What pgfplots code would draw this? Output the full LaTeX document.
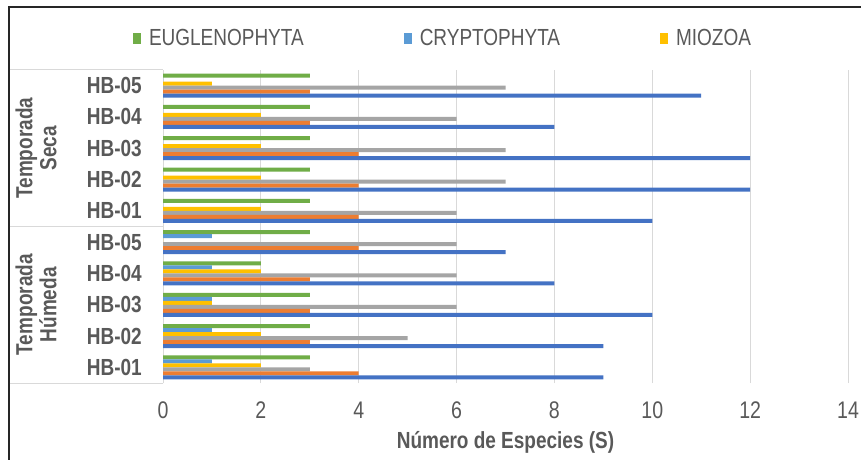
\documentclass[border=0pt]{standalone}
\usepackage{fontspec}
\setmainfont{Liberation Sans}[FakeStretch=0.815]
\usepackage{pgfplots}
\pgfplotsset{compat=1.18}
\usepackage{pgfplotstable}
\definecolor{cBlue}{HTML}{4472C4}
\definecolor{cOrange}{HTML}{ED7D31}
\definecolor{cGray}{HTML}{A5A5A5}
\definecolor{cYellow}{HTML}{FFC000}
\definecolor{cLBlue}{HTML}{5B9BD5}
\definecolor{cGreen}{HTML}{70AD47}
\definecolor{cGrid}{HTML}{D9D9D9}
\definecolor{cText}{HTML}{595959}
\pgfplotsset{legsq/.style={legend image code/.code={\fill[##1] (0pt,-5.5pt) rectangle (8pt,5.5pt);}}}
% y: 0-4 Temporada Humeda HB-01..HB-05, 5-9 Temporada Seca HB-01..HB-05
\pgfplotstableread{
y blue orange gray yellow lblue green
0 9  4 3 2 1 3
1 9  3 5 2 1 3
2 10 3 6 1 1 3
3 8  3 6 2 1 2
4 7  4 6 0 1 3
5 10 4 6 2 0 3
6 12 4 7 2 0 3
7 12 4 7 2 0 3
8 8  3 6 2 0 3
9 11 3 7 1 0 3
}\datatable

\begin{document}
\begin{tikzpicture}[x=1pt,y=1pt]
\useasboundingbox (0,0) rectangle (861,459);
\clip (0,0) rectangle (861,459);
\fill[white] (0,0) rectangle (861,459);
\draw[line width=1.5pt, black!85] (9,-20) rectangle (880,452);
\begin{axis}[
  at={(163pt,76pt)}, anchor=south west,
  scale only axis, width=685pt, height=313pt,
  xbar, bar width=4pt,
  xmin=0, xmax=14, ymin=-0.5, ymax=9.5,
  xtick={0,2,...,14},
  ytick={0,...,9},
  yticklabels={HB-01,HB-02,HB-03,HB-04,HB-05,HB-01,HB-02,HB-03,HB-04,HB-05},
  axis lines*=left,
  x axis line style={draw=none},
  y axis line style={draw=cGrid, line width=1pt},
  major tick length=0pt,
  xmajorgrids, grid style={cGrid, line width=1pt},
  /pgf/number format/assume math mode=true,
  xticklabel style={anchor=base, yshift=-35pt, font=\fontsize{24}{28}\selectfont, text=cText},
  yticklabel style={anchor=east, inner sep=0pt, xshift=-21pt, font=\bfseries\fontsize{23.3}{28}\selectfont, text=cText},
  xlabel={Número de Especies (S)},
  xlabel style={at={(axis description cs:0.5,0)}, anchor=base, yshift=-65pt, font=\bfseries\fontsize{23.3}{28}\selectfont, text=cText},
  legend columns=3,
  legend cell align=left,
  legend style={draw=none, fill=none, inner sep=0pt, outer sep=0pt,
    at={(axis description cs:-0.0438,1.1006)}, anchor=west,
    nodes={inner sep=0pt, text=cText, font=\fontsize{23.3}{28}\selectfont},
    /tikz/every odd column/.append style={column sep=8pt},
    /tikz/every even column/.append style={column sep=100pt}},
  clip=false,
]
\addplot[fill=cGreen, draw=none, bar shift=10pt, legsq] table[x=green,y=y]{\datatable};
\addlegendentry{EUGLENOPHYTA}
\addplot[fill=cLBlue, draw=none, bar shift=6pt, legsq] table[x=lblue,y=y]{\datatable};
\addlegendentry{CRYPTOPHYTA}
\addplot[fill=cYellow, draw=none, bar shift=2pt, legsq] table[x=yellow,y=y]{\datatable};
\addlegendentry{MIOZOA}
\addplot[fill=cGray, draw=none, bar shift=-2pt, forget plot] table[x=gray,y=y]{\datatable};
\addplot[fill=cOrange, draw=none, bar shift=-6pt, forget plot] table[x=orange,y=y]{\datatable};
\addplot[fill=cBlue, draw=none, bar shift=-10pt, forget plot] table[x=blue,y=y]{\datatable};
\draw[cGrid, line width=1pt] ([xshift=-153pt]axis cs:0,9.5) -- (axis cs:0,9.5);
\draw[cGrid, line width=1pt] ([xshift=-153pt]axis cs:0,4.5) -- (axis cs:0,4.5);
\draw[cGrid, line width=1pt] ([xshift=-153pt]axis cs:0,-0.5) -- (axis cs:0,-0.5);
\node[rotate=90, align=center, text=cText, font=\bfseries\fontsize{23.3}{24}\selectfont] at ([xshift=-127pt]axis cs:0,7) {Temporada\\Seca};
\node[rotate=90, align=center, text=cText, font=\bfseries\fontsize{23.3}{24}\selectfont] at ([xshift=-127pt]axis cs:0,2) {Temporada\\Húmeda};
\end{axis}
\end{tikzpicture}
\end{document}
